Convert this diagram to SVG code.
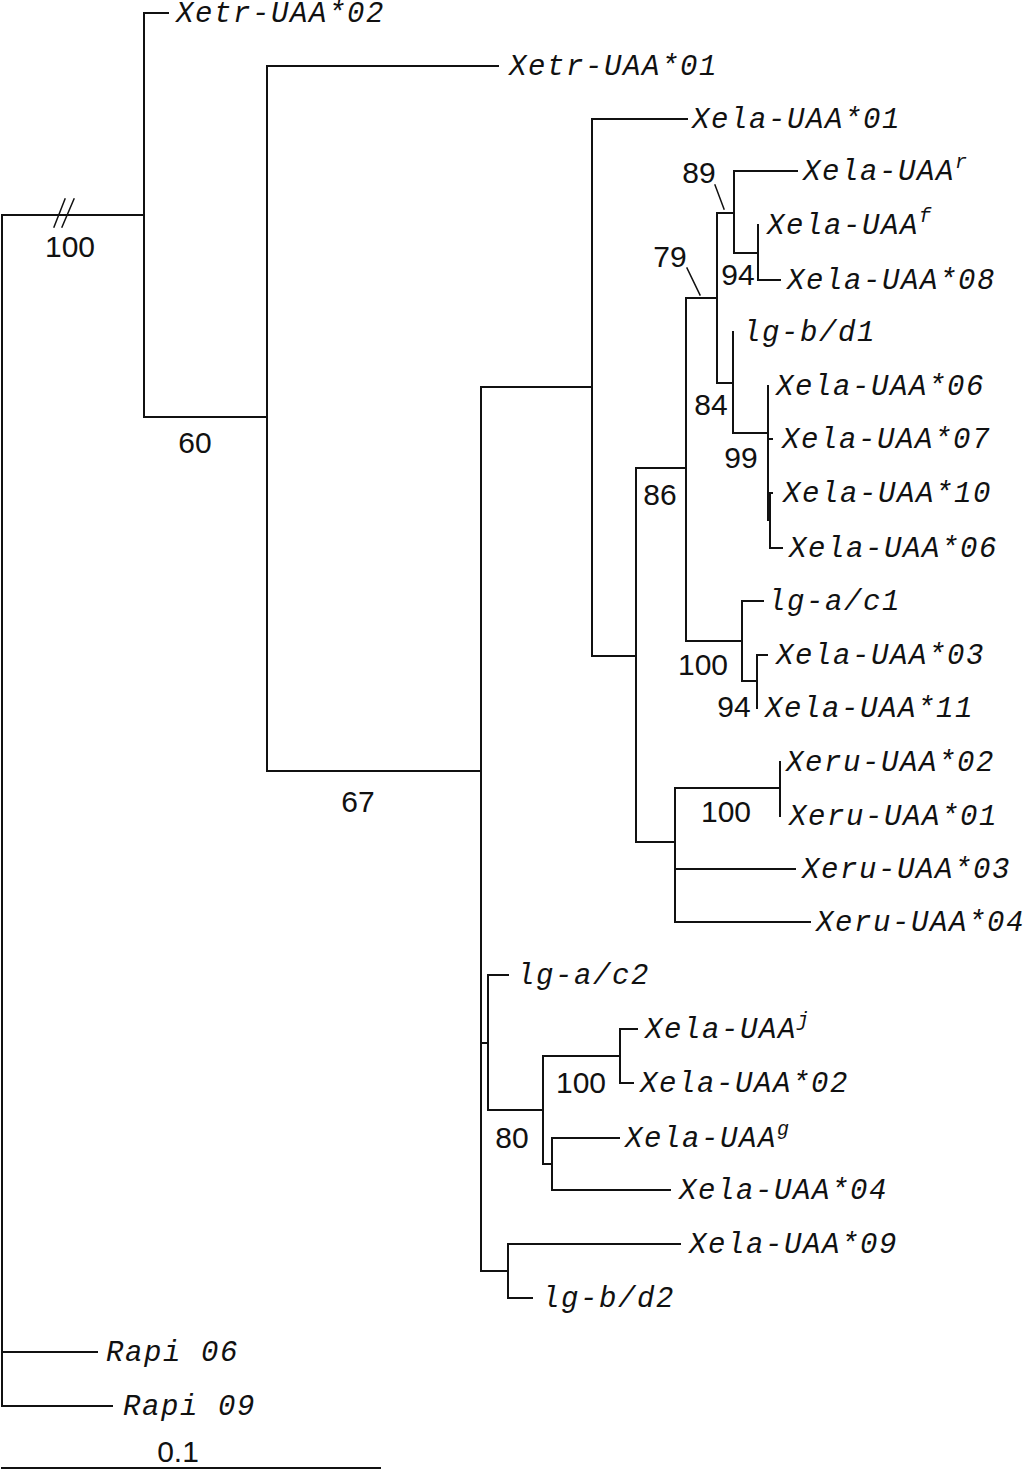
<svg xmlns="http://www.w3.org/2000/svg" width="1024" height="1471" viewBox="0 0 1024 1471">
<style>
.br{fill:none;stroke:#111;stroke-width:2;stroke-linecap:square}
.tip{font-family:"Liberation Mono","Courier New",monospace;font-style:italic;font-size:29px;letter-spacing:1.6px;fill:#111}
.sup{font-size:20px;letter-spacing:0}
.bs{font-family:"Liberation Sans",Arial,sans-serif;font-size:30px;fill:#111;text-anchor:middle}
</style>
<rect width="1024" height="1471" fill="#fff"/>
<g id="connectors" class="br">
<path d="M2,215V1406M2,215H144M2,1352H97M2,1406H112"/>
<path d="M144,13V417M144,13H168M144,417H267"/>
<path d="M267,66V771M267,66H498M267,771H481"/>
<path d="M481,387V1271M481,387H592M481,1043H488M481,1271H508"/>
<path d="M592,119V656M592,119H687M592,656H636"/>
<path d="M636,468V842M636,468H686M636,842H675"/>
<path d="M686,298V641M686,298H717M686,641H742"/>
<path d="M717,213V383M717,213H734M717,383H733"/>
<path d="M734,171V253M734,171H797M734,253H758"/>
<path d="M758,225V280M758,280H780"/>
<path d="M733,332V433M733,433H768"/>
<path d="M768,386V520M768,439H772M768,493H772M770,493V548M770,548H782"/>
<path d="M742,601V681M742,601H763M742,681H757"/>
<path d="M757,655V708M757,655H767"/>
<path d="M675,788V922M675,788H780M675,869H795M675,922H810"/>
<path d="M780,762V816"/>
<path d="M488,975V1110M488,975H508M488,1110H543"/>
<path d="M543,1056V1164M543,1056H620M543,1164H552"/>
<path d="M620,1029V1083M620,1029H637M620,1083H633"/>
<path d="M552,1138V1190M552,1138H619M552,1190H670"/>
<path d="M508,1244V1298M508,1244H680M508,1298H532"/>
<path d="M2,1468H380"/>
<path d="M54,227L65,199M62,227L74,199" stroke-width="1.5"/>
<path d="M715,185L724,209M687,268L700,295" stroke-width="1.5"/>
</g>
<g id="n_xetr02"><text class="tip" x="176" y="22">Xetr-UAA*02</text></g>
<g id="n_xetr01"><text class="tip" x="509" y="75">Xetr-UAA*01</text></g>
<g id="n_xela01"><text class="tip" x="692" y="128">Xela-UAA*01</text></g>
<g id="n_xelar"><text class="tip" x="803" y="180">Xela-UAA<tspan class="sup" dy="-12">r</tspan></text></g>
<g id="n_xelaf"><text class="tip" x="767" y="234">Xela-UAA<tspan class="sup" dy="-12">f</tspan></text></g>
<g id="n_xela08"><text class="tip" x="787" y="289">Xela-UAA*08</text></g>
<g id="n_lgbd1"><text class="tip" x="743" y="341">lg-b/d1</text></g>
<g id="n_xela06a"><text class="tip" x="776" y="395">Xela-UAA*06</text></g>
<g id="n_xela07"><text class="tip" x="782" y="448">Xela-UAA*07</text></g>
<g id="n_xela10"><text class="tip" x="783" y="502">Xela-UAA*10</text></g>
<g id="n_xela06b"><text class="tip" x="789" y="557">Xela-UAA*06</text></g>
<g id="n_lgac1"><text class="tip" x="768" y="610">lg-a/c1</text></g>
<g id="n_xela03"><text class="tip" x="776" y="664">Xela-UAA*03</text></g>
<g id="n_xela11"><text class="tip" x="765" y="717">Xela-UAA*11</text></g>
<g id="n_xeru02"><text class="tip" x="786" y="771">Xeru-UAA*02</text></g>
<g id="n_xeru01"><text class="tip" x="789" y="825">Xeru-UAA*01</text></g>
<g id="n_xeru03"><text class="tip" x="802" y="878">Xeru-UAA*03</text></g>
<g id="n_xeru04"><text class="tip" x="816" y="931">Xeru-UAA*04</text></g>
<g id="n_lgac2"><text class="tip" x="517" y="984">lg-a/c2</text></g>
<g id="n_xelaj"><text class="tip" x="645" y="1038">Xela-UAA<tspan class="sup" dy="-12">j</tspan></text></g>
<g id="n_xela02"><text class="tip" x="640" y="1092">Xela-UAA*02</text></g>
<g id="n_xelag"><text class="tip" x="625" y="1147">Xela-UAA<tspan class="sup" dy="-12">g</tspan></text></g>
<g id="n_xela04"><text class="tip" x="679" y="1199">Xela-UAA*04</text></g>
<g id="n_xela09"><text class="tip" x="689" y="1253">Xela-UAA*09</text></g>
<g id="n_lgbd2"><text class="tip" x="542" y="1307">lg-b/d2</text></g>
<g id="n_rapi06"><text class="tip" x="106" y="1361" xml:space="preserve">Rapi 06</text></g>
<g id="n_rapi09"><text class="tip" x="123" y="1415" xml:space="preserve">Rapi 09</text></g>
<g id="support">
<text class="bs" x="70" y="257">100</text>
<text class="bs" x="195" y="453">60</text>
<text class="bs" x="358" y="812">67</text>
<text class="bs" x="699" y="183">89</text>
<text class="bs" x="670" y="267">79</text>
<text class="bs" x="738" y="285">94</text>
<text class="bs" x="711" y="415">84</text>
<text class="bs" x="741" y="468">99</text>
<text class="bs" x="660" y="505">86</text>
<text class="bs" x="703" y="675">100</text>
<text class="bs" x="734" y="717">94</text>
<text class="bs" x="726" y="822">100</text>
<text class="bs" x="581" y="1093">100</text>
<text class="bs" x="512" y="1148">80</text>
</g>
<g id="scale"><text class="bs" x="178" y="1462">0.1</text></g>
</svg>
